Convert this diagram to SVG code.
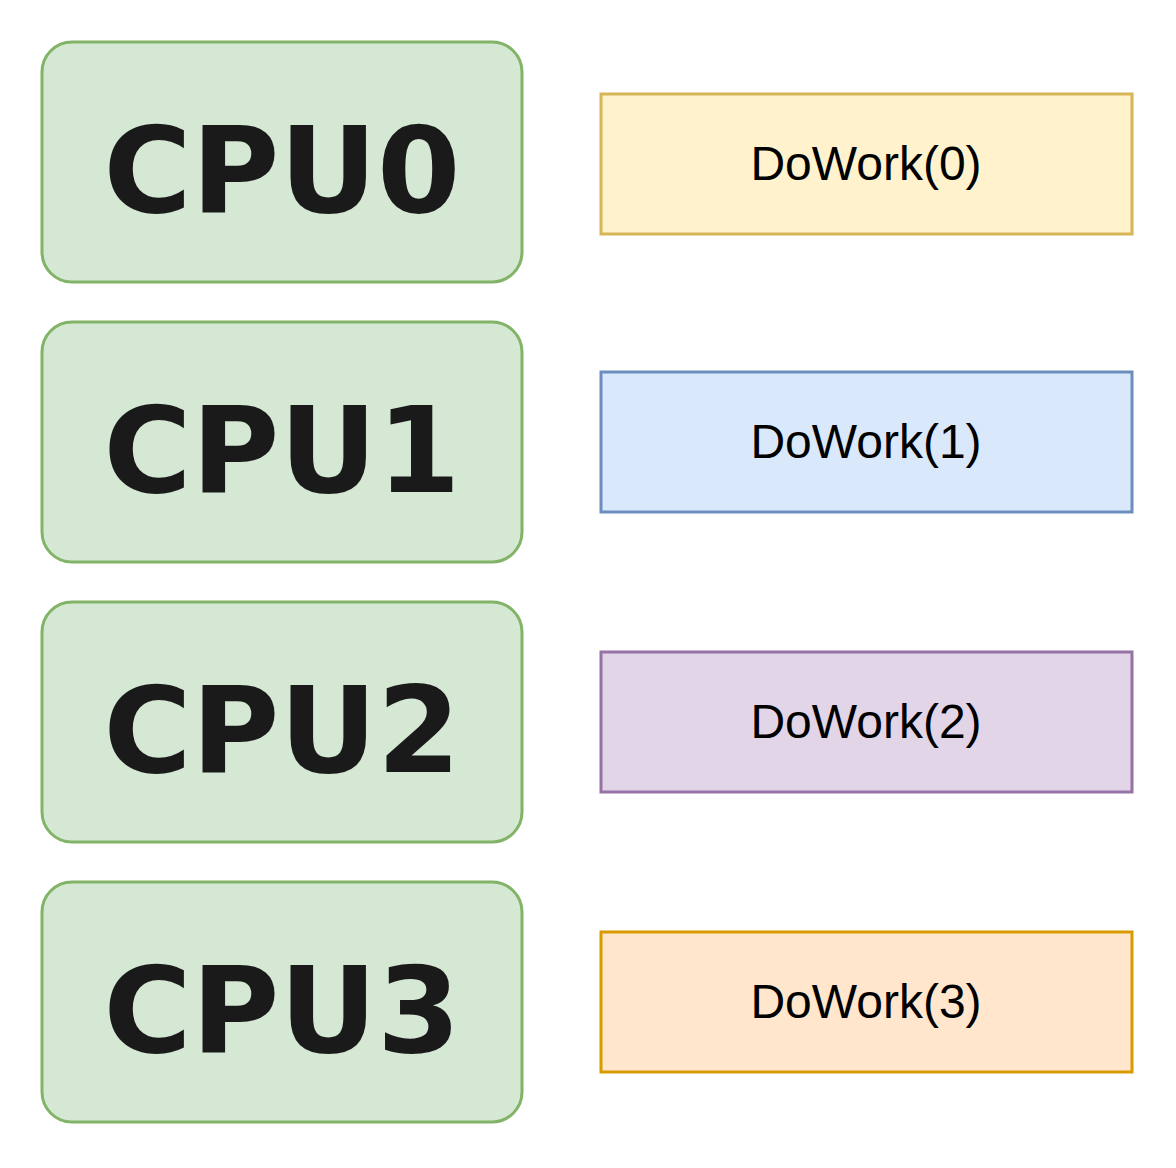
<svg xmlns="http://www.w3.org/2000/svg" width="1176" height="1168" viewBox="0 0 1176 1168">
<style>
.cpu rect{fill:#d5e8d4;stroke:#82b366;stroke-width:3}
.cpu text{font-family:"DejaVu Sans",sans-serif;font-weight:bold;font-size:120px;fill:#1a1a1a;text-anchor:middle}
.work rect{stroke-width:3}
.work text{font-family:"Liberation Sans",Arial,sans-serif;font-size:48px;fill:#000;text-anchor:middle}
</style>
<rect width="1176" height="1168" fill="#fff"/>
<g id="cpu0" class="cpu"><rect x="42" y="42" width="480" height="240" rx="30"/><text x="282" y="212">CPU0</text></g>
<g id="cpu1" class="cpu"><rect x="42" y="322" width="480" height="240" rx="30"/><text x="282" y="492">CPU1</text></g>
<g id="cpu2" class="cpu"><rect x="42" y="602" width="480" height="240" rx="30"/><text x="282" y="772">CPU2</text></g>
<g id="cpu3" class="cpu"><rect x="42" y="882" width="480" height="240" rx="30"/><text x="282" y="1052">CPU3</text></g>
<g id="work0" class="work"><rect x="601" y="94" width="531" height="140" fill="#fff2cc" stroke="#d6b656"/><text x="866" y="180">DoWork(0)</text></g>
<g id="work1" class="work"><rect x="601" y="372" width="531" height="140" fill="#dae8fc" stroke="#6c8ebf"/><text x="866" y="458">DoWork(1)</text></g>
<g id="work2" class="work"><rect x="601" y="652" width="531" height="140" fill="#e1d5e7" stroke="#9673a6"/><text x="866" y="738">DoWork(2)</text></g>
<g id="work3" class="work"><rect x="601" y="932" width="531" height="140" fill="#ffe6cc" stroke="#d79b00"/><text x="866" y="1018">DoWork(3)</text></g>
<g id="connectors"/>
</svg>
